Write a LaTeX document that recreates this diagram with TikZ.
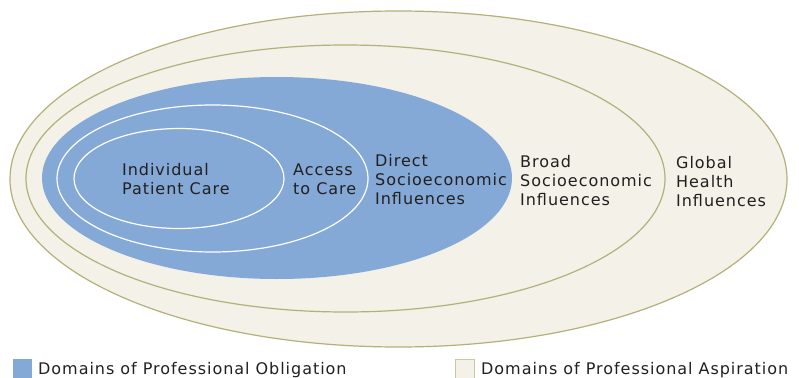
\documentclass[tikz,border=0pt]{standalone}
\usepackage{fontspec}
\newfontfamily\labelfont[LetterSpace=6]{DejaVu Sans}
\usetikzlibrary{shapes.geometric}
\definecolor{Obligation}{HTML}{84A9D7}
\definecolor{Aspiration}{HTML}{F4F1E8}
\definecolor{RingLine}{HTML}{B3B07A}
\definecolor{LabelInk}{HTML}{231F20}

\begin{document}
\begin{tikzpicture}[x=1pt, y=-1pt,
  ring/.style={ellipse, draw=RingLine, line width=1.2pt, fill=Aspiration, inner sep=0pt},
  duty/.style={ellipse, fill=Obligation, inner sep=0pt},
  band/.style={ellipse, draw=white, line width=1.2pt, inner sep=0pt},
  lbl/.style={font=\labelfont\fontsize{16}{19}\selectfont, text=LabelInk,
              align=left, anchor=west, inner sep=0pt},
  key/.style={minimum size=19pt, inner sep=0pt, anchor=north west}
]
\useasboundingbox (0,0) rectangle (799,377);

%% ---- Aspiration rings (outermost first) ----
\node[ring, minimum width=777pt, minimum height=336pt] (global) at (398.5,179) {};
\node[ring, minimum width=639pt, minimum height=267pt] (broad)  at (345.5,178.5) {};

%% ---- Obligation core ----
\node[duty, minimum width=470pt, minimum height=202pt] (direct) at (277,178) {};
\node[band, minimum width=311pt, minimum height=147pt] (access) at (212.5,178.5) {};
\node[band, minimum width=210pt, minimum height=100pt] (patient) at (179,178.5) {};

%% ---- Labels ----
\node[lbl] (patientlbl) at (122,179.5) {Individual\\Patient Care};
\node[lbl] (accesslbl)  at (293,179.5) {Access\\to Care};
\node[lbl] (directlbl)  at (375,180) {Direct\\Socioeconomic\\Influences};
\node[lbl] (broadlbl)   at (520,181) {Broad\\Socioeconomic\\Influences};
\node[lbl] (globallbl)  at (676,182) {Global\\Health\\Influences};

%% ---- Legend ----
\node[key, fill=Obligation] (dutykey) at (13,359) {};
\node[lbl, anchor=base west] (dutytext) at (38,374) {Domains of Professional Obligation};
\node[key, fill=Aspiration, draw=RingLine!70, line width=0.8pt] (aimkey) at (455,359) {};
\node[lbl, anchor=base west] (aimtext) at (481,374) {Domains of Professional Aspiration};

\end{tikzpicture}
\end{document}
